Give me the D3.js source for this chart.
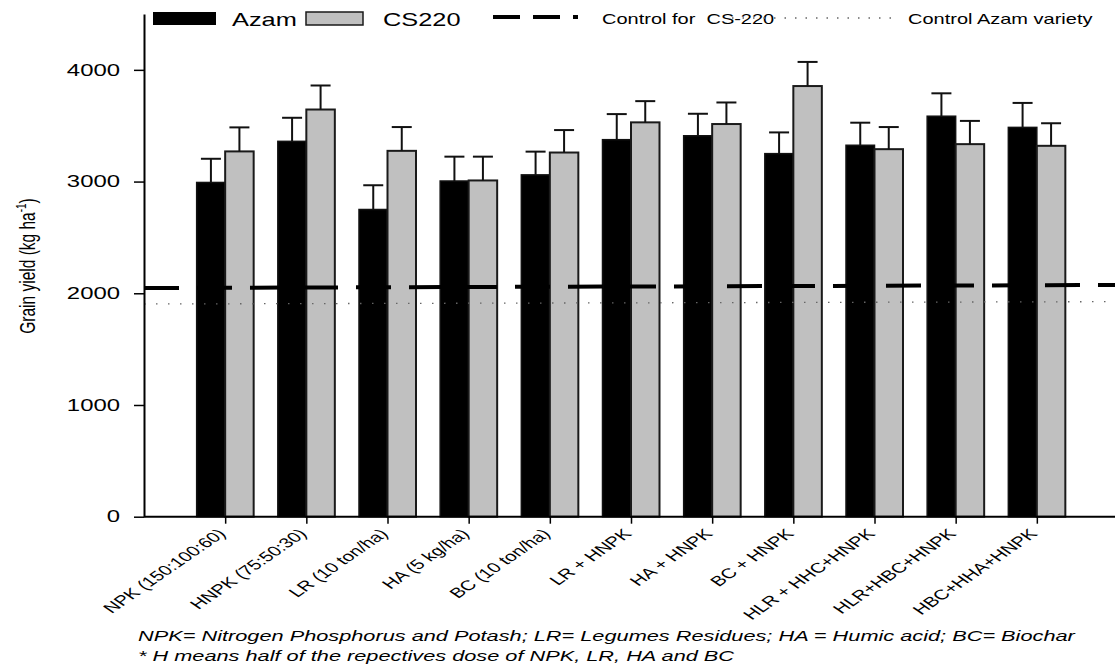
<!DOCTYPE html>
<html>
<head>
<meta charset="utf-8">
<script src="https://cdn.jsdelivr.net/npm/d3@7"></script>
<style>
  body { margin: 0; background: #fff; }
  svg { display: block; font-family: "Liberation Sans", Arial, sans-serif; }
</style>
</head>
<body>
<div id="chart1"></div>
<script>
// data
const categories = ["NPK (150:100:60)", "HNPK (75:50:30)", "LR (10 ton/ha)", "HA (5 kg/ha)",
  "BC (10 ton/ha)", "LR + HNPK", "HA + HNPK", "BC + HNPK", "HLR + HHC+HNPK",
  "HLR+HBC+HNPK", "HBC+HHA+HNPK"];
const azam = [2992, 3360, 2750, 3005, 3060, 3375, 3410, 3250, 3325, 3585, 3485];
const azamErr = [212, 211, 217, 218, 208, 229, 197, 190, 202, 205, 219];
const cs220 = [3270, 3645, 3275, 3010, 3260, 3530, 3515, 3855, 3290, 3335, 3320];
const cs220Err = [215, 215, 213, 213, 201, 190, 193, 216, 198, 208, 202];
const controlCS = [2047, 2074];   // start / end of dashed control line
const controlAzam = [1904, 1925]; // start / end of dotted control line
const yTicks = [0, 1000, 2000, 3000, 4000];

const width = 1115, height = 667,
      margin = ({ top: 14, right: 0, bottom: 150, left: 144 });
const SX = 1.45; // original figure is stretched sideways, text too

const svg = d3.select("#chart1")
  .append("svg")
  .attr("width", width)
  .attr("height", height)
  .attr("viewBox", [0, 0, width, height]);

let x = d3.scalePoint()
    .domain(categories)
    .range([margin.left, 1118])
    .padding(1);

let y = d3.scaleLinear()
    .domain([0, 4500])
    .range([516.7, margin.top]);

const barW = 28.5;

// bars
const groups = svg.append("g").selectAll("g")
  .data(categories)
  .join("g");

groups.append("rect")
  .attr("x", (d, i) => x(d) - barW)
  .attr("y", (d, i) => y(azam[i]))
  .attr("width", barW)
  .attr("height", (d, i) => y(0) - y(azam[i]))
  .attr("fill", "#000")
  .attr("stroke", "#111")
  .attr("stroke-width", 1.5);

groups.append("rect")
  .attr("x", d => x(d))
  .attr("y", (d, i) => y(cs220[i]))
  .attr("width", barW)
  .attr("height", (d, i) => y(0) - y(cs220[i]))
  .attr("fill", "#c0c0c0")
  .attr("stroke", "#1a1a1a")
  .attr("stroke-width", 2);

// error bars (upper only)
function errBar(g, cx, top, err) {
  g.append("line")
    .attr("x1", cx).attr("x2", cx)
    .attr("y1", y(top)).attr("y2", y(top + err))
    .attr("stroke", "#111").attr("stroke-width", 2);
  g.append("line")
    .attr("x1", cx - 10).attr("x2", cx + 10)
    .attr("y1", y(top + err)).attr("y2", y(top + err))
    .attr("stroke", "#111").attr("stroke-width", 2);
}
groups.each(function(d, i) {
  const g = d3.select(this);
  errBar(g, x(d) - barW / 2, azam[i], azamErr[i]);
  errBar(g, x(d) + barW / 2, cs220[i], cs220Err[i]);
});

// control lines, drawn over the bars
let xt = d3.scaleLinear().domain([0, 1]).range([margin.left, width]);
let ctrl = d3.line()
    .x((d, i) => xt(i))
    .y(d => y(d));

svg.append("path")
  .datum(controlCS)
  .attr("d", ctrl)
  .attr("fill", "none")
  .attr("stroke", "#000")
  .attr("stroke-width", 4)
  .attr("stroke-dasharray", "35,18");

svg.append("path")
  .datum(controlAzam)
  .attr("d", ctrl)
  .attr("fill", "none")
  .attr("stroke", "#666")
  .attr("stroke-width", 1.3)
  .attr("stroke-dasharray", "1.5,10.5");

// y axis
const yAxis = svg.append("g")
  .attr("transform", `translate(${margin.left},0)`)
  .call(d3.axisLeft(y)
    .tickValues(yTicks)
    .tickFormat(d3.format("d"))
    .tickSize(10)
    .tickPadding(6.5)
    .tickSizeOuter(0));
yAxis.select(".domain").attr("stroke-width", 2);
yAxis.selectAll(".tick line").attr("stroke-width", 1.5);
yAxis.selectAll(".tick text")
  .attr("font-size", 16.5)
  .attr("fill", "#000")
  .attr("font-family", "Liberation Sans, Arial, sans-serif")
  .attr("transform", `scale(${SX},1)`);

// x axis
const xAxis = svg.append("g")
  .attr("transform", `translate(0,${y(0)})`)
  .call(d3.axisBottom(x).tickSize(7).tickSizeOuter(0));
xAxis.select(".domain")
  .attr("d", `M${margin.left},0H${width}`)
  .attr("stroke-width", 2);
xAxis.selectAll(".tick line").attr("stroke-width", 1.5);
xAxis.selectAll(".tick text")
  .attr("x", 0).attr("y", 0).attr("dy", null)
  .attr("text-anchor", "end")
  .attr("font-size", 14)
  .attr("fill", "#000")
  .attr("font-family", "Liberation Sans, Arial, sans-serif")
  .attr("transform", `translate(1,18) scale(${SX},1) rotate(-45)`);

// y label
const yl = svg.append("text")
  .attr("text-anchor", "middle")
  .attr("font-size", 15.5)
  .attr("transform", `translate(35,266) scale(${SX},1) rotate(-90)`);
yl.append("tspan").text("Grain yield (kg ha");
yl.append("tspan").attr("dy", -6).attr("font-size", 10).text("-1");
yl.append("tspan").attr("dy", 6).text(")");

// legend
const leg = svg.append("g");
leg.append("rect").attr("x", 153).attr("y", 12).attr("width", 63).attr("height", 13)
  .attr("fill", "#000");
leg.append("text").attr("font-size", 17.5)
  .attr("transform", `translate(232,25.5) scale(${SX},1)`).text("Azam");
leg.append("rect").attr("x", 306).attr("y", 12).attr("width", 57).attr("height", 13)
  .attr("fill", "#c0c0c0").attr("stroke", "#1a1a1a").attr("stroke-width", 1.5);
leg.append("text").attr("font-size", 17.5)
  .attr("transform", `translate(383,25.5) scale(${SX},1)`).text("CS220");
leg.append("line").attr("x1", 493).attr("x2", 578).attr("y1", 17).attr("y2", 17)
  .attr("stroke", "#000").attr("stroke-width", 4).attr("stroke-dasharray", "27,13");
leg.append("text").attr("font-size", 13.8)
  .attr("transform", `translate(602,23.5) scale(${SX},1)`).text("Control for  CS-220")
  .attr("xml:space", "preserve").style("white-space", "pre");
leg.append("line").attr("x1", 732).attr("x2", 893).attr("y1", 18).attr("y2", 18)
  .attr("stroke", "#666").attr("stroke-width", 1.3).attr("stroke-dasharray", "1.5,9");
leg.append("text").attr("font-size", 13.8)
  .attr("transform", `translate(908,23.5) scale(${SX},1)`).text("Control Azam variety");

// footnote
const notes = ["NPK= Nitrogen Phosphorus and Potash; LR= Legumes Residues; HA = Humic acid; BC= Biochar",
  "* H means half of the repectives dose of NPK, LR, HA and BC"];
svg.append("g").selectAll("text")
  .data(notes)
  .join("text")
  .attr("font-size", 15)
  .attr("font-style", "italic")
  .attr("transform", (d, i) => `translate(138,${641 + i * 20}) scale(${SX},1)`)
  .text(d => d);
</script>
</body>
</html>
